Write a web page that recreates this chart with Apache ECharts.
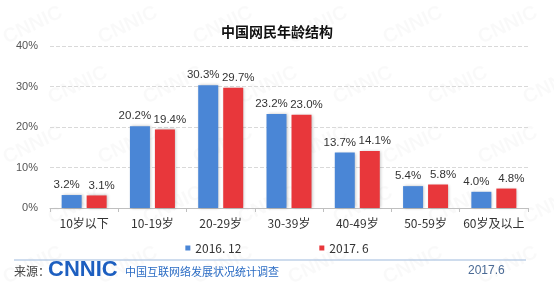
<!DOCTYPE html>
<html><head><meta charset="utf-8">
<script src="https://cdn.jsdelivr.net/npm/echarts@6/dist/echarts.min.js"></script>
<style>html,body{margin:0;padding:0;background:#fff}#c{width:554px;height:289px}</style>
</head><body><div id="c"></div>
<script>
const categories = ['10岁以下','10-19岁','20-29岁','30-39岁','40-49岁','50-59岁','60岁及以上'];
const s2016 = [3.2, 20.2, 30.3, 23.2, 13.7, 5.4, 4.0];
const s2017 = [3.1, 19.4, 29.7, 23.0, 14.1, 5.8, 4.8];
const seriesNames = ['2016. 12', '2017. 6'];
const yTicks = [0, 10, 20, 30, 40];

const chart = echarts.init(document.getElementById('c'));
const font = '"Noto Sans CJK SC", "Noto Sans", sans-serif';
const wm = [];
for (let r = 0; r < 5; r++) for (let c = 0; c < 6; c++) {
  wm.push({type:'text', x: 0 + c*95 + (r%2)*45, y: 30 + r*60, rotation: Math.PI/7,
    style:{text:'CNNIC', fill:'rgba(0,0,0,0.025)', font:'bold 20px Arial, sans-serif'}, z:-1, silent:true});
}
const lbl = (dx) => ({show:true, position:'top', distance:4, offset:[dx,0], color:'#333', fontSize:11.5, fontFamily:'Arial, "Liberation Sans", sans-serif', formatter: p => p.value.toFixed(1) + '%'});
chart.setOption({
  animation:false,
  textStyle:{fontFamily:font},
  title:{text:'中国网民年龄结构', left:'center', top:20, textStyle:{fontSize:14, fontWeight:'bold', color:'#111', fontFamily:font}},
  grid:{left:50, right:26, top:46, bottom:81},
  legend:{bottom:30, left:'center', itemWidth:5, itemHeight:5, itemGap:78, icon:'rect',
    textStyle:{fontSize:12, color:'#333', fontFamily:font}, data:seriesNames},
  xAxis:{type:'category', data:categories,
    axisLine:{lineStyle:{color:'#bfbfbf'}},
    axisTick:{show:true, length:4, lineStyle:{color:'#bfbfbf'}},
    axisLabel:{interval:0, fontSize:12, color:'#333', margin:9, fontFamily:font}},
  yAxis:{type:'value', min:yTicks[0], max:yTicks[yTicks.length-1], interval:10,
    axisLine:{show:false}, axisTick:{show:false},
    axisLabel:{formatter:'{value}%', fontSize:11, color:'#555', margin:12, fontFamily:'Arial, "Liberation Sans", sans-serif'},
    splitLine:{lineStyle:{color:'#d9d9d9', type:'dashed'}}},
  series:[
    {name:seriesNames[0], type:'bar', data:s2016, barWidth:20, barGap:'25%',
      itemStyle:{color:'#4a86d6', shadowColor:'rgba(0,0,0,0.25)', shadowBlur:3, shadowOffsetX:1, shadowOffsetY:0}, label:lbl(-5)},
    {name:seriesNames[1], type:'bar', data:s2017, barWidth:20,
      itemStyle:{color:'#e8373b', shadowColor:'rgba(0,0,0,0.25)', shadowBlur:3, shadowOffsetX:1, shadowOffsetY:0}, label:lbl(5)}
  ],
  graphic: wm.concat([
    {type:'line', shape:{x1:14, y1:260, x2:526, y2:260}, style:{stroke:'#9db9dc', lineWidth:1}},
    {type:'text', x:14, y:265, style:{text:'来源：', fill:'#444', font:'12px "Noto Sans CJK SC"'}},
    {type:'text', x:48, y:259, style:{text:'CNNIC', fill:'#1d5fc0', font:'900 22px "Liberation Sans", Arial, sans-serif'}},
    {type:'text', x:125, y:266, style:{text:'中国互联网络发展状况统计调查', fill:'#2b6cc4', font:'11px "Noto Sans CJK SC"'}},
    {type:'text', x:468, y:265, style:{text:'2017.6', fill:'#4a6a95', font:'12px Arial, "Liberation Sans", sans-serif'}}
  ])
});
</script></body></html>
